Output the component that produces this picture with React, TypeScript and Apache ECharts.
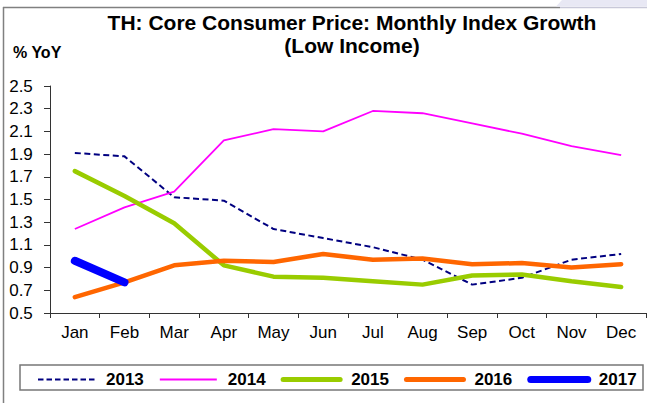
import React, { useEffect, useRef } from "react";
import * as echarts from "echarts";

const months = ["Jan", "Feb", "Mar", "Apr", "May", "Jun", "Jul", "Aug", "Sep", "Oct", "Nov", "Dec"];
const yTicks = [0.5, 0.7, 0.9, 1.1, 1.3, 1.5, 1.7, 1.9, 2.1, 2.3, 2.5];
const s2013 = [1.91, 1.88, 1.52, 1.49, 1.24, 1.16, 1.08, 0.97, 0.75, 0.81, 0.97, 1.02];
const s2014 = [1.24, 1.43, 1.57, 2.02, 2.12, 2.1, 2.28, 2.26, 2.17, 2.08, 1.97, 1.89];
const s2015 = [1.75, 1.53, 1.29, 0.92, 0.82, 0.81, 0.78, 0.75, 0.83, 0.84, 0.78, 0.73];
const s2016 = [0.64, 0.77, 0.92, 0.96, 0.95, 1.02, 0.97, 0.98, 0.93, 0.94, 0.9, 0.93];
const s2017 = [0.96, 0.77];
const seriesNames = ["2013", "2014", "2015", "2016", "2017"];
const titleLine1 = "TH: Core Consumer Price: Monthly Index Growth";
const titleLine2 = "(Low Income)";
const yUnit = "% YoY";

const FONT = '"Liberation Sans", Arial, sans-serif';

export default function App() {
  const ref = useRef<HTMLDivElement>(null);
  useEffect(() => {
    if (!ref.current) return;
    const chart = echarts.init(ref.current, null, { renderer: "svg" });
    const styles = [
      { color: "#000080", width: 2, type: [6, 3.5] as any, cap: "butt", lw: 2, ltype: [5.5, 3] as any, lcap: "butt" },
      { color: "#FF00FF", width: 1.8, type: "solid", cap: "butt", lw: 2, ltype: "solid", lcap: "butt" },
      { color: "#99CC00", width: 4.5, type: "solid", cap: "round", lw: 5, ltype: "solid", lcap: "round" },
      { color: "#FF6600", width: 4.5, type: "solid", cap: "round", lw: 5, ltype: "solid", lcap: "round" },
      { color: "#0000FF", width: 8, type: "solid", cap: "round", lw: 7, ltype: "solid", lcap: "round" },
    ];
    const datas = [s2013, s2014, s2015, s2016, s2017];
    chart.setOption({
      animation: false,
      backgroundColor: "#ffffff",
      textStyle: { fontFamily: FONT },
      grid: { left: 50, right: 1, top: 86, bottom: 90, containLabel: false },
      xAxis: {
        type: "category",
        data: months,
        boundaryGap: true,
        axisLine: { lineStyle: { color: "#333", width: 1 } },
        axisTick: { show: true, length: 5, alignWithLabel: false, lineStyle: { color: "#333" } },
        axisLabel: { color: "#000", fontSize: 17, fontFamily: FONT, margin: 11, interval: 0 },
        splitLine: { show: false },
      },
      yAxis: {
        type: "value",
        min: 0.5,
        max: 2.5,
        axisLine: { show: true, lineStyle: { color: "#333", width: 1 } },
        axisTick: { show: true, length: 6, lineStyle: { color: "#333" }, customValues: yTicks },
        axisLabel: {
          color: "#000",
          fontSize: 17,
          fontFamily: FONT,
          align: "center",
          margin: 29,
          customValues: yTicks,
          formatter: (v: number) => v.toFixed(1),
        },
        splitLine: { show: false },
      },
      legend: {
        left: 37,
        top: 371,
        padding: 0,
        itemWidth: 57,
        itemHeight: 14,
        itemGap: 15,
        data: seriesNames.map((name, i) => ({
          name,
          itemStyle: { opacity: 0 },
          lineStyle: { color: styles[i].color, width: styles[i].lw, type: styles[i].ltype, cap: styles[i].lcap },
        })),
        itemStyle: { opacity: 0 },
        textStyle: { color: "#000", fontSize: 17, fontWeight: "bold", fontFamily: FONT, padding: [0, 0, 0, 6] },
      },
      graphic: [
        { type: "line", shape: { x1: 3.5, y1: 7, x2: 3.5, y2: 403 }, style: { stroke: "#808080", lineWidth: 1.5 } },
        { type: "line", shape: { x1: 3, y1: 7.5, x2: 560, y2: 7.5 }, style: { stroke: "#808080", lineWidth: 1.5 } },
        { type: "line", shape: { x1: 560, y1: 7.5, x2: 647, y2: 7.5 }, style: { stroke: "#c8c8d8", lineWidth: 1.5 } },
        {
          type: "polygon",
          shape: { points: [[556, 6.5], [562, 0], [647, 0], [647, 6.5]] },
          style: { fill: "#e8e8f4" },
        },
        {
          type: "rect",
          shape: { x: 20, y: 365, width: 623, height: 25 },
          style: { fill: "none", stroke: "#777", lineWidth: 1.5 },
        },
        {
          type: "text",
          x: 352,
          y: 22,
          style: { text: titleLine1, font: `bold 21px ${FONT}`, fill: "#000", align: "center", verticalAlign: "middle" },
        },
        {
          type: "text",
          x: 352,
          y: 45,
          style: { text: titleLine2, font: `bold 21px ${FONT}`, fill: "#000", align: "center", verticalAlign: "middle" },
        },
        {
          type: "text",
          x: 13,
          y: 52,
          style: { text: yUnit, font: `bold 16px ${FONT}`, fill: "#000", align: "left", verticalAlign: "middle" },
        },
      ],
      series: seriesNames.map((name, i) => ({
        name,
        type: "line",
        data: datas[i],
        symbol: "none",
        showSymbol: false,
        smooth: false,
        silent: true,
        z: 2 + i,
        itemStyle: { color: styles[i].color },
        lineStyle: { color: styles[i].color, width: styles[i].width, type: styles[i].type, cap: styles[i].cap },
      })),
    });
    return () => chart.dispose();
  }, []);
  return (
    <div
      ref={ref}
      style={{ position: "absolute", left: 0, top: 0, width: 647, height: 403 }}
    />
  );
}
